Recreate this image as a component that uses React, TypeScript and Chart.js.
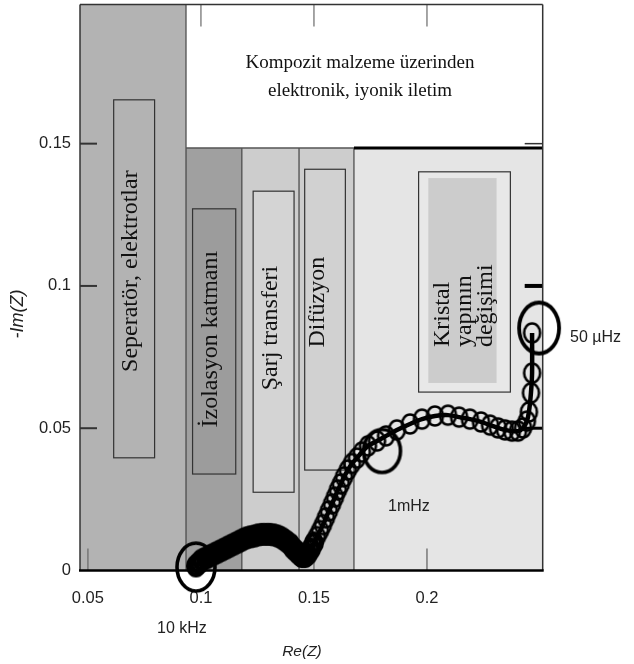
import React, { useEffect, useRef } from "react";
import { Chart, registerables } from "chart.js";

Chart.register(...registerables);

// ---- axis ticks ----
const xTicks = [0.05, 0.1, 0.15, 0.2];
const xTickLabels = ["0.05", "0.1", "0.15", "0.2"];
const yTicks = [0, 0.05, 0.1, 0.15];
const yTickLabels = ["0", "0.05", "0.1", "0.15"];
const topTickMarks = [0.1, 0.15, 0.2];
const rightTickMarks = [0.05, 0.1, 0.15];

// ---- impedance data (Re(Z), -Im(Z)) ----
const reZ = [
  0.0978, 0.0991, 0.1004, 0.1022, 0.104, 0.1058, 0.1075, 0.1093, 0.1111, 0.1128,
  0.1146, 0.1164, 0.1181, 0.1199, 0.1217, 0.1235, 0.1252, 0.127, 0.1288, 0.1305,
  0.1323, 0.1341, 0.1358, 0.1376, 0.1394, 0.1407, 0.142, 0.1434, 0.1447, 0.146,
  0.1473, 0.1487, 0.15, 0.1513, 0.1527, 0.154, 0.1553, 0.1566, 0.158, 0.1593,
  0.1606, 0.1619, 0.1633, 0.165, 0.1668, 0.169, 0.1712, 0.1739, 0.1779, 0.1819,
  0.1867, 0.1925, 0.1978, 0.2035, 0.2093, 0.2142, 0.219, 0.2239, 0.2279, 0.2314,
  0.2345, 0.2376, 0.2403, 0.2425, 0.2442, 0.2451, 0.246, 0.2465, 0.2465,
];
const negImZ = [
  0.0016, 0.0026, 0.0037, 0.0044, 0.0051, 0.0058, 0.0065, 0.0072, 0.0079, 0.0086,
  0.0093, 0.01, 0.0107, 0.0114, 0.0118, 0.0121, 0.0125, 0.0127, 0.0127, 0.0127,
  0.0125, 0.0121, 0.0114, 0.0104, 0.0093, 0.0079, 0.0069, 0.0058, 0.0049, 0.0049,
  0.0058, 0.0076, 0.0097, 0.0119, 0.014, 0.0161, 0.0185, 0.0209, 0.0234, 0.0258,
  0.0283, 0.0304, 0.0329, 0.0353, 0.0376, 0.0395, 0.0416, 0.0438, 0.0455, 0.0473,
  0.0494, 0.0515, 0.0532, 0.0543, 0.0546, 0.0539, 0.0532, 0.0522, 0.0511, 0.0501,
  0.0494, 0.049, 0.049, 0.0501, 0.0525, 0.0557, 0.0624, 0.0694, 0.0835,
];
// points of the dense high-frequency part (drawn with heavier rings)
const DENSE_COUNT = 33;

// ---- frequency markers ----
const markerRe = [0.0978, 0.1801, 0.2496];
const markerIm = [0.0012, 0.042, 0.0852];
const markerLabels = ["10 kHz", "1mHz", "50 µHz"];
const markerLabelRe = [0.0916, 0.192, 0.2633];
const markerLabelIm = [-0.0204, 0.0225, 0.0819];

// ---- zones ----
const X_MIN = 0.0465;
const X_MAX = 0.2512;
const Y_MIN = 0;
const Y_MAX = 0.1989;
const zoneEdges = [0.0934, 0.1181, 0.1434, 0.1677];
const zoneTop = 0.1485;

const titleLines = ["Kompozit malzeme üzerinden", "elektronik, iyonik iletim"];
const titleRe = 0.1704;
const titleIm = [0.1766, 0.1667];

// label boxes: [x0, x1, y0, y1]
const sepBox = [0.0614, 0.0795, 0.0396, 0.1654];
const izoBox = [0.0963, 0.1154, 0.0339, 0.1271];
const sarjBox = [0.1231, 0.1412, 0.0275, 0.1333];
const difBox = [0.1459, 0.1639, 0.0353, 0.141];
const kristalBox = [0.1963, 0.2369, 0.0627, 0.1401];
const kristalInner = [0.2006, 0.2308, 0.0659, 0.1379];

const boxTexts = ["Seperatör, elektrotlar", "İzolasyon katmanı", "Şarj transferi", "Difüzyon"];
const boxTextRe = [0.0717, 0.1071, 0.1336, 0.1544];
const boxTextIm = [0.1052, 0.0813, 0.0852, 0.0943];

const kristalLines = ["Kristal", "yapının", "değişimi"];
const kristalLineRe = [0.2097, 0.2195, 0.2288];
const kristalStartIm = 0.0785;

const SERIF = '"Liberation Serif", "Times New Roman", serif';
const SANS = '"Liberation Sans", Arial, sans-serif';

function ellipseImg(rx: number, ry: number, lw: number) {
  const c = document.createElement("canvas");
  const w = Math.ceil(2 * rx + lw + 2);
  const h = Math.ceil(2 * ry + lw + 2);
  c.width = w;
  c.height = h;
  const g = c.getContext("2d")!;
  g.strokeStyle = "#000";
  g.lineWidth = lw;
  g.beginPath();
  g.ellipse(w / 2, h / 2, rx, ry, 0, 0, Math.PI * 2);
  g.stroke();
  return c;
}

const backgroundPlugin = {
  id: "nyquistBackground",
  beforeDatasetsDraw(chart: any) {
    const { ctx, chartArea: a, scales } = chart;
    const X = (v: number) => scales.x.getPixelForValue(v);
    const Y = (v: number) => scales.y.getPixelForValue(v);
    const rect = (x0: number, x1: number, y0: number, y1: number, fill: string, stroke?: string, lw = 1.2) => {
      const px0 = X(x0), px1 = X(x1), py0 = Y(y1), py1 = Y(y0);
      ctx.fillStyle = fill;
      ctx.fillRect(px0, py0, px1 - px0, py1 - py0);
      if (stroke) {
        ctx.strokeStyle = stroke;
        ctx.lineWidth = lw;
        ctx.strokeRect(px0, py0, px1 - px0, py1 - py0);
      }
    };
    const line = (x0: number, y0: number, x1: number, y1: number, color: string, lw: number) => {
      ctx.strokeStyle = color;
      ctx.lineWidth = lw;
      ctx.beginPath();
      ctx.moveTo(x0, y0);
      ctx.lineTo(x1, y1);
      ctx.stroke();
    };
    ctx.save();
    // zones
    rect(X_MIN, zoneEdges[0], Y_MIN, Y_MAX, "#b3b3b3");
    rect(zoneEdges[0], X_MAX, zoneTop, Y_MAX, "#ffffff");
    rect(zoneEdges[0], zoneEdges[1], Y_MIN, zoneTop, "#a0a0a0");
    rect(zoneEdges[1], zoneEdges[2], Y_MIN, zoneTop, "#cdcdcd");
    rect(zoneEdges[2], zoneEdges[3], Y_MIN, zoneTop, "#cdcdcd");
    rect(zoneEdges[3], X_MAX, Y_MIN, zoneTop, "#e5e5e5");
    // dividers
    line(X(zoneEdges[0]), a.top, X(zoneEdges[0]), a.bottom, "#444", 1.2);
    for (let i = 1; i < zoneEdges.length; i++) {
      line(X(zoneEdges[i]), Y(zoneTop), X(zoneEdges[i]), a.bottom, "#444", 1.2);
    }
    line(X(zoneEdges[0]), Y(zoneTop), X(zoneEdges[3]), Y(zoneTop), "#555", 1.5);
    line(X(zoneEdges[3]), Y(zoneTop), a.right, Y(zoneTop), "#000", 3);
    // label boxes
    rect(sepBox[0], sepBox[1], sepBox[2], sepBox[3], "#b3b3b3", "#333");
    rect(izoBox[0], izoBox[1], izoBox[2], izoBox[3], "#9c9c9c", "#333");
    rect(sarjBox[0], sarjBox[1], sarjBox[2], sarjBox[3], "#d4d4d4", "#333");
    rect(difBox[0], difBox[1], difBox[2], difBox[3], "#d1d1d1", "#333");
    rect(kristalBox[0], kristalBox[1], kristalBox[2], kristalBox[3], "#e8e8e8", "#333");
    rect(kristalInner[0], kristalInner[1], kristalInner[2], kristalInner[3], "#cccccc");

    // vertical texts
    ctx.fillStyle = "#111";
    ctx.font = `24px ${SERIF}`;
    ctx.textBaseline = "alphabetic";
    boxTexts.forEach((t, i) => {
      ctx.save();
      ctx.translate(X(boxTextRe[i]), Y(boxTextIm[i]));
      ctx.rotate(-Math.PI / 2);
      ctx.textAlign = "center";
      ctx.fillText(t, 0, 0);
      ctx.restore();
    });
    kristalLines.forEach((t, i) => {
      ctx.save();
      ctx.translate(X(kristalLineRe[i]), Y(kristalStartIm));
      ctx.rotate(-Math.PI / 2);
      ctx.textAlign = "left";
      ctx.fillText(t, 0, 0);
      ctx.restore();
    });
    // title
    ctx.font = `19px ${SERIF}`;
    ctx.textAlign = "center";
    titleLines.forEach((t, i) => ctx.fillText(t, X(titleRe), Y(titleIm[i])));

    // inner tick marks
    yTicks.forEach((v) => {
      if (v === 0) return;
      line(a.left, Y(v), a.left + 17, Y(v), "#333", 2);
    });
    const rightW = [3, 4, 1.5];
    rightTickMarks.forEach((v, i) => line(a.right - 18, Y(v), a.right, Y(v), i === 2 ? "#333" : "#000", rightW[i]));
    topTickMarks.forEach((v) => line(X(v), a.top, X(v), a.top + 22, "#888", 1.5));
    xTicks.forEach((v) => line(X(v), a.bottom - 22, X(v), a.bottom, "#777", 1.5));

    // frame
    line(a.left, a.top, a.left, a.bottom, "#333", 1.5);
    line(a.left, a.top, a.right, a.top, "#333", 1.5);
    line(a.right, a.top, a.right, a.bottom, "#333", 1.5);
    line(a.left - 1, a.bottom, a.right + 1, a.bottom, "#000", 2.5);

    // tick labels
    ctx.fillStyle = "#222";
    ctx.font = `16.5px ${SANS}`;
    ctx.textAlign = "center";
    ctx.textBaseline = "middle";
    xTicks.forEach((v, i) => ctx.fillText(xTickLabels[i], X(v), a.bottom + 28));
    ctx.textAlign = "right";
    yTicks.forEach((v, i) => ctx.fillText(yTickLabels[i], a.left - 9, Y(v)));

    // marker annotations
    ctx.font = `16px ${SANS}`;
    markerLabels.forEach((t, i) => {
      ctx.textAlign = i === 2 ? "left" : "center";
      ctx.fillText(t, X(markerLabelRe[i]), Y(markerLabelIm[i]));
    });

    // axis titles
    ctx.font = `italic 15.5px ${SANS}`;
    ctx.textAlign = "center";
    ctx.fillText("Re(Z)", X(0.1447), Y(-0.0286));
    ctx.save();
    ctx.font = `italic 18px ${SANS}`;
    ctx.translate(X(0.019), Y(0.0901));
    ctx.rotate(-Math.PI / 2);
    ctx.fillText("-Im(Z)", 0, 0);
    ctx.restore();

    ctx.restore();
  },
};

export default function App() {
  const ref = useRef<HTMLCanvasElement | null>(null);
  useEffect(() => {
    if (!ref.current) return;
    const small = ellipseImg(8, 9.5, 2.6);
    const heavy = ellipseImg(7.5, 9, 5);
    const bigImgs = [ellipseImg(19, 24, 3.6), ellipseImg(18.5, 21.5, 3.6), ellipseImg(20, 25.5, 3.8)];
    const curve = reZ.map((x, i) => ({ x, y: negImZ[i] }));
    const curveStyles = reZ.map((_, i) => (i < DENSE_COUNT ? heavy : small));
    const markers = markerRe.map((x, i) => ({ x, y: markerIm[i] }));
    const chart = new Chart(ref.current, {
      type: "scatter",
      data: {
        datasets: [
          {
            label: "markers",
            data: markers,
            showLine: false,
            pointStyle: bigImgs as any,
            pointRadius: 20,
            clip: false as any,
          },
          {
            label: "Z",
            data: curve,
            showLine: true,
            borderColor: "#000",
            borderWidth: 4.5,
            tension: 0.3,
            pointStyle: curveStyles as any,
            pointRadius: 9,
            clip: false as any,
          },
        ],
      },
      options: {
        animation: false,
        responsive: false,
        events: [],
        layout: { autoPadding: false, padding: { left: 80, top: 4.5, right: 91.3, bottom: 93.5 } },
        scales: {
          x: { type: "linear", min: X_MIN, max: X_MAX, display: false },
          y: { type: "linear", min: Y_MIN, max: Y_MAX, display: false },
        },
        plugins: { legend: { display: false }, tooltip: { enabled: false } },
      },
      plugins: [backgroundPlugin],
    });
    return () => chart.destroy();
  }, []);
  return (
    <div style={{ position: "fixed", left: 0, top: 0, width: 634, height: 664, background: "#fff" }}>
      <canvas ref={ref} width={634} height={664} style={{ display: "block" }} />
    </div>
  );
}
